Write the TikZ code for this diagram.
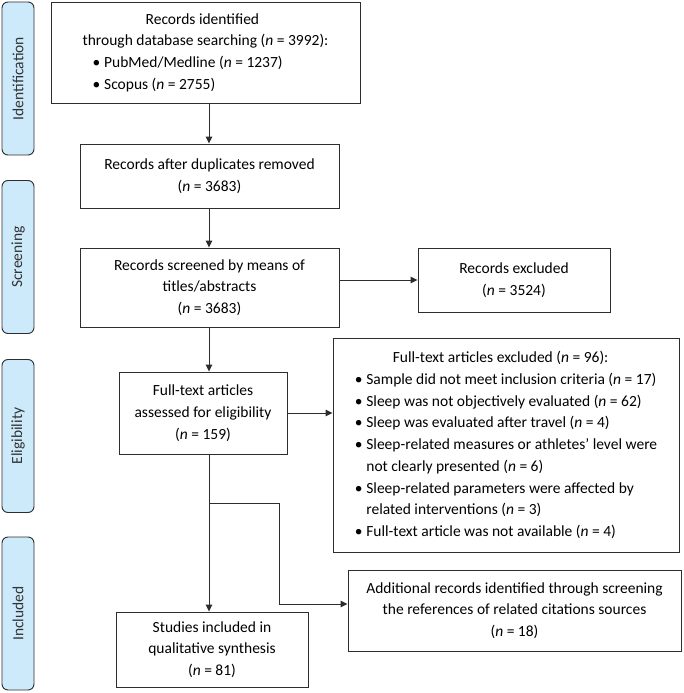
\documentclass[tikz,border=0pt]{standalone}
\usepackage{fontspec}
\setmainfont{Carlito}
\usetikzlibrary{arrows.meta}

\definecolor{stagebg}{RGB}{205,234,251}
\definecolor{linegray}{RGB}{45,45,45}
\newcommand{\nn}{\textit{n}}
\newcommand{\bul}{\makebox[11.5pt][l]{\textbullet}}

\begin{document}
\begin{tikzpicture}[x=1pt,y=-1pt,
  every node/.style={font=\fontsize{15.5}{21.7}\selectfont},
  box/.style={draw=linegray, line width=0.9pt, inner sep=2pt, align=center},
  stage/.style={draw=linegray, fill=stagebg, rounded corners=6pt, line width=0.9pt,
    rotate=90, minimum width=153pt, minimum height=32pt, text=black!80},
  arr/.style={draw=linegray, line width=1pt, -{Triangle[length=7pt,width=6.5pt]}}]

\useasboundingbox (0,0) rectangle (683,693);

%stages
\node[stage] (sident) at (18,78.5) {Identification};
\node[stage] (sscreen) at (18,257) {Screening};
\node[stage] (selig) at (18,436) {Eligibility};
\node[stage] (sincl) at (18,613.5) {Included};

%main column
\node[box, minimum width=309pt, minimum height=101pt, align=left] (ident) at (205.5,52.5)
  {\hspace*{63pt}Records identified\\
   through database searching (\nn{} = 3992):\\
   \hspace*{10pt}\bul PubMed/Medline (\nn{} = 1237)\\
   \hspace*{10pt}\bul Scopus (\nn{} = 2755)};
\node[box, minimum width=259pt, minimum height=64pt] (dup) at (209.5,176)
  {Records after duplicates removed\\(\nn{} = 3683)};
\node[box, minimum width=259pt, minimum height=79pt] (screen) at (209.5,287.5)
  {Records screened by means of\\titles/abstracts\\(\nn{} = 3683)};
\node[box, minimum width=168pt, minimum height=82pt] (full) at (203,413)
  {Full-text articles\\assessed for eligibility\\(\nn{} = 159)};
\node[box, minimum width=192pt, minimum height=75pt] (incl) at (212,649.5)
  {Studies included in\\qualitative synthesis\\(\nn{} = 81)};

%side boxes
\node[box, minimum width=192pt, minimum height=64pt] (excl) at (514,280)
  {Records excluded\\(\nn{} = 3524)};
\node[box, minimum width=346pt, minimum height=214pt, align=left] (fexcl) at (506,445)
  {\hspace*{38pt}Full-text articles excluded (\nn{} = 96):\\
   \bul Sample did not meet inclusion criteria (\nn{} = 17)\\
   \bul Sleep was not objectively evaluated (\nn{} = 62)\\
   \bul Sleep was evaluated after travel (\nn{} = 4)\\
   \bul Sleep-related measures or athletes’ level were\\
   \hspace*{11.5pt}not clearly presented (\nn{} = 6)\\
   \bul Sleep-related parameters were affected by\\
   \hspace*{11.5pt}related interventions (\nn{} = 3)\\
   \bul Full-text article was not available (\nn{} = 4)};
\node[box, minimum width=333pt, minimum height=81pt] (add) at (514.5,610.5)
  {Additional records identified through screening\\
   the references of related citations sources\\(\nn{} = 18)};

% connections
\coordinate (spine) at (209,0);
\coordinate (split) at (209,503);
\coordinate (bend) at (279,604);
\draw[arr] (ident.south -| spine) -- (dup.north -| spine);
\draw[arr] (dup.south -| spine) -- (screen.north -| spine);
\draw[arr] (screen.south -| spine) -- (full.north -| spine);
\draw[arr] (full.south -| spine) -- (incl.north -| spine);
\draw[arr] (screen.east |- excl.west) -- (excl.west);
\draw[arr] (full.east) -- (full.east -| fexcl.west);
\draw[arr] (split) -| (bend) -- (bend -| add.west);

\end{tikzpicture}
\end{document}
